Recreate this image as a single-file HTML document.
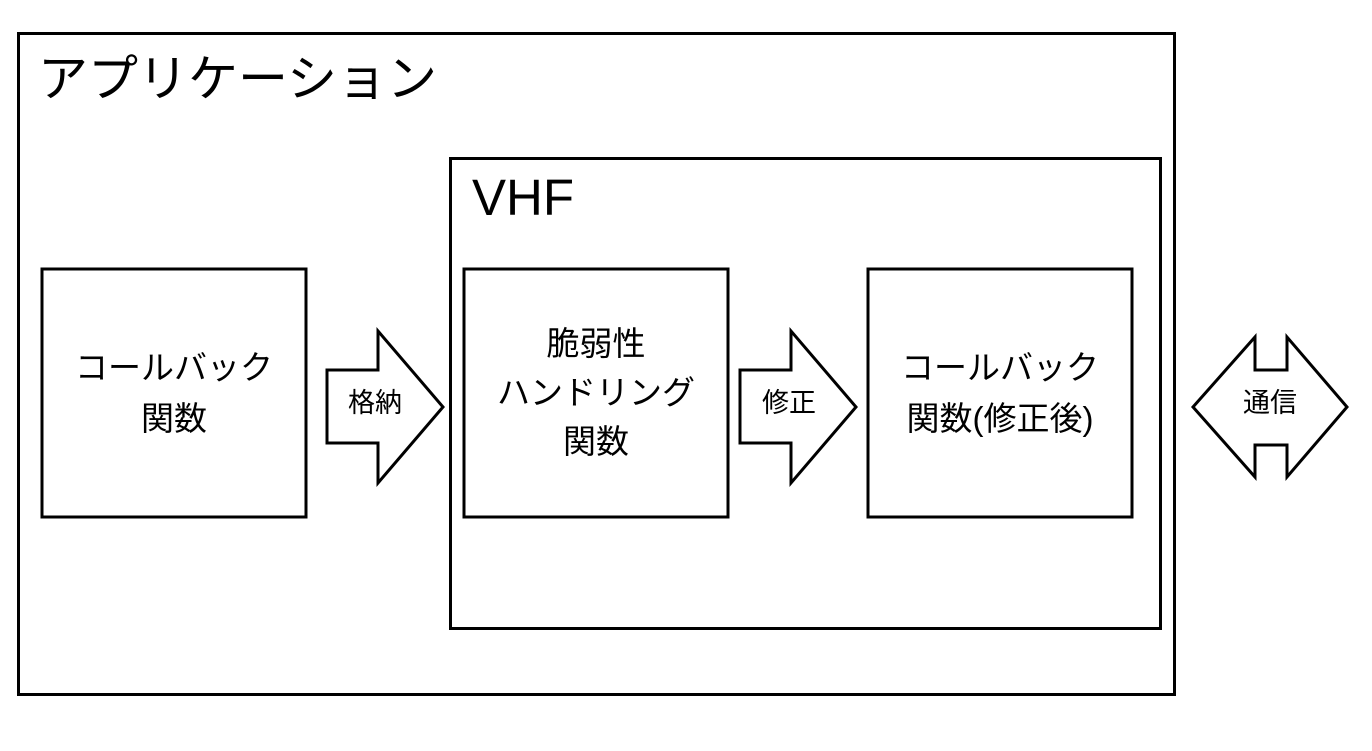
<!DOCTYPE html>
<html><head><meta charset="utf-8"><style>
html,body{margin:0;padding:0;background:#fff;}
svg text{font-family:"Liberation Sans","Noto Sans CJK JP",sans-serif;fill:#000;}
</style></head><body>
<svg width="1372" height="746" viewBox="0 0 1372 746" xmlns="http://www.w3.org/2000/svg">
<g fill="#fff" stroke="#000" stroke-width="3">
<rect x="18.5" y="33.5" width="1156" height="661"/>
<rect x="450.5" y="158.5" width="710" height="470"/>
<rect x="42" y="269" width="264" height="248"/>
<rect x="464" y="269" width="264" height="248"/>
<rect x="868" y="269" width="264" height="248"/>
<polygon points="327,370 378,370 378,331 443,407 378,483 378,443 327,443"/>
<polygon points="740,370 791,370 791,331 856,407 791,483 791,443 740,443"/>
<polygon points="1193,407 1255,337 1255,370 1287,370 1287,337 1347,407 1287,477 1287,445 1255,445 1255,477"/>
</g>
<text x="38" y="96" font-size="50">アプリケーション</text>
<text x="472" y="215" font-size="51">VHF</text>
<g font-size="33" text-anchor="middle">
<text x="174" y="379">コールバック</text>
<text x="174" y="430">関数</text>
<text x="596" y="355">脆弱性</text>
<text x="596" y="404">ハンドリング</text>
<text x="596" y="453">関数</text>
<text x="1000" y="379">コールバック</text>
<text x="1000" y="430">関数(修正後)</text>
</g>
<g font-size="27" text-anchor="middle">
<text x="375" y="412">格納</text>
<text x="789" y="412">修正</text>
<text x="1270" y="412">通信</text>
</g>
</svg>
</body></html>
